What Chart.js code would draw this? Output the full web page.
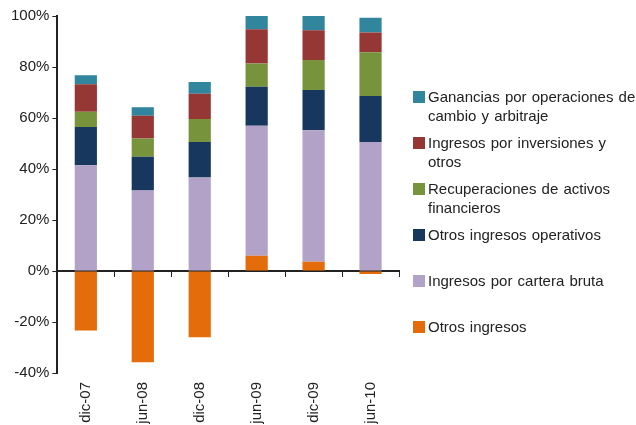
<!DOCTYPE html>
<html>
<head>
<meta charset="utf-8">
<script src="https://cdn.jsdelivr.net/npm/chart.js@4"></script>
<style>
  body { margin: 0; background: #fff; }
  #wrap { position: relative; width: 636px; height: 425px; overflow: hidden; }
  #legend {
    position: absolute; left: 413px; top: 87px; width: 228px;
    font: 15px "Liberation Sans", Arial, sans-serif; color: #222; word-spacing: 1px;
  }
  .item { display: flex; align-items: flex-start; height: 46px; line-height: 19px; }
  .box { width: 12px; height: 12px; margin-top: 4px; margin-right: 3px; flex: none; }
</style>
</head>
<body>
<div id="wrap">
  <canvas id="chart" width="636" height="425"></canvas>
  <div id="legend"></div>
</div>
<script>
// datos (% de los ingresos)
const fechas = ['dic-07', 'jun-08', 'dic-08', 'jun-09', 'dic-09', 'jun-10'];
const otrosIngresos = [-23.3, -35.8, -26.0, 6.0, 3.6, -1.2];
const carteraBruta = [41.5, 31.6, 36.7, 51.0, 51.6, 50.6];
const otrosOperativos = [15.0, 13.2, 13.9, 15.3, 15.8, 18.0];
const recuperaciones = [6.0, 7.2, 9.0, 9.1, 11.7, 17.2];
const inversiones = [10.7, 8.9, 9.9, 13.4, 11.7, 7.7];
const ganancias = [3.6, 3.3, 4.6, 5.2, 5.6, 5.8];
const yTicks = [-40, -20, 0, 20, 40, 60, 80, 100];

const series = [
    { label: 'Otros ingresos', data: otrosIngresos, color: '#E46C0A' },
    { label: 'Ingresos por cartera bruta', data: carteraBruta, color: '#B3A2C7' },
    { label: 'Otros ingresos operativos', data: otrosOperativos, color: '#17375E' },
    { label: 'Recuperaciones de activos financieros', data: recuperaciones, color: '#77933C' },
    { label: 'Ingresos por inversiones y otros', data: inversiones, color: '#953735' },
    { label: 'Ganancias por operaciones de cambio y arbitraje', data: ganancias, color: '#31859C' }
];

const font = { family: '"Liberation Sans", Arial, sans-serif', size: 15 };

const ctx = document.getElementById('chart').getContext('2d');
const chart = new Chart(ctx, {
    type: 'bar',
    data: {
        labels: fechas,
        datasets: series.map(s => ({
            label: s.label,
            data: s.data,
            backgroundColor: s.color,
            borderWidth: 0,
            xAxisID: 'x',
            barPercentage: 0.39,
            categoryPercentage: 1
        }))
    },
    options: {
        responsive: false,
        animation: false,
        layout: { padding: { left: 8, top: 16, right: 237, bottom: 0 } },
        plugins: {
            legend: { display: false },
            tooltip: { enabled: false }
        },
        scales: {
            x: {
                type: 'category',
                stacked: true,
                position: { y: 0 },
                offset: true,
                grid: { offset: true, drawOnChartArea: false, drawTicks: true, tickLength: 5, color: '#222' },
                border: { display: true, color: '#222', width: 2 },
                ticks: { display: false }
            },
            x2: {
                type: 'category',
                position: 'bottom',
                offset: true,
                grid: { display: false, drawTicks: false },
                border: { display: false },
                ticks: { minRotation: 90, maxRotation: 90, font: font, color: '#222', padding: 9 },
                // las etiquetas se cortan por abajo, como en el original
                afterFit: scale => { scale.height = 52; }
            },
            y: {
                stacked: true,
                min: yTicks[0],
                max: yTicks[yTicks.length - 1],
                afterBuildTicks: axis => { axis.ticks = yTicks.map(v => ({ value: v })); },
                grid: { drawOnChartArea: false, drawTicks: true, tickLength: 5, color: '#222' },
                border: { display: true, color: '#222', width: 2 },
                ticks: { font: font, color: '#222', padding: 3, callback: v => v + '%' }
            }
        }
    }
});

// leyenda a la derecha (orden inverso, como en el original)
const legend = document.getElementById('legend');
series.slice().reverse().forEach(s => {
    const item = document.createElement('div');
    item.className = 'item';
    item.innerHTML = '<span class="box" style="background:' + s.color + '"></span><span>' + s.label + '</span>';
    legend.appendChild(item);
});
</script>
</body>
</html>
